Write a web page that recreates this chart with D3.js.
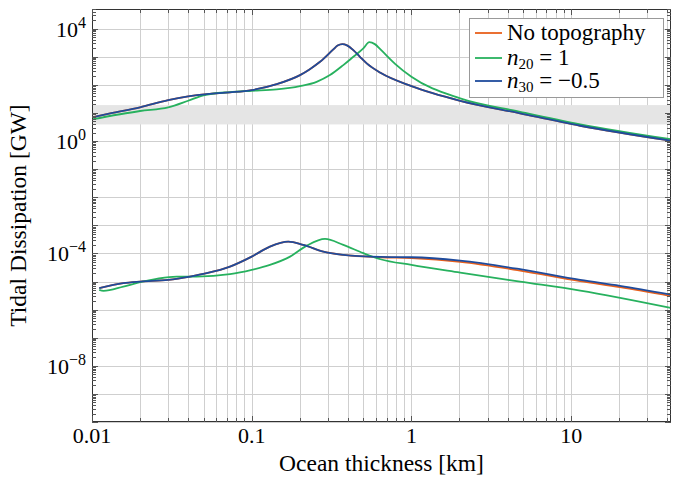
<!DOCTYPE html>
<html lang="en">
<head>
<meta charset="UTF-8">
<title>Tidal dissipation vs ocean thickness</title>
<style>
  body { margin: 0; background: #fff; }
  svg { display: block; font-family: "Liberation Serif", "DejaVu Serif", serif; }
  .grid line { stroke: #cfcfcf; stroke-width: 1; }
  .spine { fill: none; stroke: #333; stroke-width: 1; }
  .tick { stroke: #555; stroke-width: 1; }
</style>
</head>
<body>
<svg id="chart" width="673" height="479"></svg>
<script src="https://cdn.jsdelivr.net/npm/d3@7"></script>
<script>
// ---- data ----
// upper branch (large dissipation)
var upThick = [0.01, 0.013, 0.02, 0.03, 0.04, 0.0523, 0.0731, 0.1, 0.1434, 0.2006, 0.23, 0.2678, 0.3243, 0.345, 0.3693, 0.395, 0.4327, 0.476, 0.525, 0.64, 1, 2.02, 4.79, 11.4, 42];
var upNoTopo = [6.96, 9.66, 15.8, 28.7, 38.8, 46.9, 53.9, 65, 106, 222, 354, 660, 1820, 2500, 2810, 2550, 1720, 994, 579, 268, 90, 27.1, 9.66, 3.5, 1.03];
var upN30 = [6.96, 9.66, 15.8, 28.7, 38.8, 46.9, 53.9, 65, 106, 222, 354, 660, 1820, 2500, 2810, 2550, 1720, 994, 579, 268, 90, 27.1, 9.66, 3.5, 1.03];

var upThickN20 = [0.01, 0.02, 0.03, 0.04, 0.0498, 0.0731, 0.1, 0.1434, 0.2006, 0.255, 0.309, 0.3746, 0.4327, 0.5, 0.545, 0.59, 0.64, 0.79, 1, 2.02, 4.79, 11.4, 42];
var upN20 = [5.9, 11.7, 15.8, 27.1, 42.2, 55.2, 61.4, 68.9, 90.3, 128, 222, 504, 994, 1977, 3311, 2810, 1820, 560, 193, 33, 11, 3.93, 1.16];

// lower branch (small dissipation)
var loThick = [0.0111, 0.0157, 0.02, 0.03, 0.0411, 0.0523, 0.0731, 0.1, 0.13, 0.1695, 0.2105, 0.2807, 0.3746, 0.64, 1, 2.02, 4.79, 11.4, 20.2, 42];
var loNoTopo = [5.79e-6, 8.7e-6, 9.93e-6, 1.14e-5, 1.5e-5, 1.98e-5, 3.4e-5, 7.7e-5, 1.75e-4, 2.63e-4, 2.0e-4, 1.16e-4, 8.85e-5, 7.3e-5, 6.75e-5, 4.99e-5, 2.45e-5, 1.03e-5, 6.3e-6, 3.05e-6];
var loN30 = [5.79e-6, 8.7e-6, 9.93e-6, 1.14e-5, 1.5e-5, 1.98e-5, 3.4e-5, 7.7e-5, 1.75e-4, 2.63e-4, 2.0e-4, 1.16e-4, 8.85e-5, 7.5e-5, 7.3e-5, 5.5e-5, 2.74e-5, 1.14e-5, 7e-6, 3.4e-6];

var loThickN20 = [0.0111, 0.0118, 0.0157, 0.02, 0.0254, 0.0339, 0.0452, 0.0731, 0.1, 0.13, 0.1738, 0.221, 0.2877, 0.3746, 0.5, 0.64, 1, 2.02, 4.79, 11.4, 42];
var loN20 = [5.04e-6, 4.64e-6, 6.6e-6, 9.46e-6, 1.24e-5, 1.5e-5, 1.5e-5, 1.82e-5, 2.59e-5, 3.9e-5, 7.7e-5, 1.89e-4, 3.28e-4, 2.0e-4, 1.02e-4, 6.2e-5, 3.9e-5, 2.08e-5, 9.9e-6, 4.75e-6, 1.15e-6];

// grey band (GW)
var bandRange = [3.9, 19];

var xTickVals = [0.01, 0.1, 1, 10];
var xTickText = ["0.01", "0.1", "1", "10"];
var yTickExp = [4, 0, -4, -8];

var legendNames = ["No topography", "n20", "n30"];
var colors = { noTopo: "#e8601c", n20: "#27b15e", n30: "#1f4b9c" };

// ---- layout ----
var W = 673, H = 479;
var margin = { top: 9, right: 2, bottom: 57, left: 92 };
var w = W - margin.left - margin.right,
    h = H - margin.top - margin.bottom;

var x = d3.scaleLog().domain([0.01, 42.2]).range([0, w]);
var y = d3.scaleLog().domain([1e-10, 5e4]).range([h, 0]);

var svg = d3.select("#chart");
var g = svg.append("g").attr("transform", "translate(" + margin.left + "," + margin.top + ")");

svg.append("defs").append("clipPath").attr("id", "clip")
  .append("rect").attr("width", w).attr("height", h);

// minor / major tick values
var xMinor = [];
for (var e = -2; e <= 1; e++) for (var k = 1; k <= 9; k++) {
  var v = k * Math.pow(10, e);
  if (v >= 0.01 && v <= 42.2) xMinor.push(v);
}
var yMajor = d3.range(-10, 5).map(function(p) { return Math.pow(10, p); });
var yMinor = [];
for (var p = -10; p <= 4; p++) for (var k2 = 2; k2 <= 9; k2++) {
  var v2 = k2 * Math.pow(10, p);
  if (v2 <= 5e4) yMinor.push(v2);
}

// grid
var grid = g.append("g").attr("class", "grid");
grid.selectAll(".vx").data(xMinor).enter().append("line")
  .attr("x1", function(d) { return Math.round(x(d)) + 0.5; })
  .attr("x2", function(d) { return Math.round(x(d)) + 0.5; })
  .attr("y1", 0).attr("y2", h);
grid.selectAll(".hy").data(yMajor).enter().append("line")
  .attr("y1", function(d) { return Math.round(y(d)) + 0.5; })
  .attr("y2", function(d) { return Math.round(y(d)) + 0.5; })
  .attr("x1", 0).attr("x2", w);

// band
g.append("rect")
  .attr("x", 0).attr("width", w)
  .attr("y", y(bandRange[1]))
  .attr("height", y(bandRange[0]) - y(bandRange[1]))
  .attr("fill", "#e5e5e5");

// curves
var line = d3.line()
  .x(function(d) { return x(d[0]); })
  .y(function(d) { return y(d[1]); })
  .curve(d3.curveMonotoneX);

function pairs(xs, ys) { return xs.map(function(v, i) { return [v, ys[i]]; }); }

var series = [
  { xs: upThick, ys: upNoTopo, c: colors.noTopo },
  { xs: loThick, ys: loNoTopo, c: colors.noTopo },
  { xs: upThickN20, ys: upN20, c: colors.n20 },
  { xs: loThickN20, ys: loN20, c: colors.n20 },
  { xs: upThick, ys: upN30, c: colors.n30 },
  { xs: loThick, ys: loN30, c: colors.n30 }
];

g.append("g").attr("clip-path", "url(#clip)")
  .selectAll("path").data(series).enter().append("path")
  .attr("d", function(d) { return line(pairs(d.xs, d.ys)); })
  .attr("fill", "none")
  .attr("stroke", function(d) { return d.c; })
  .attr("stroke-width", 1.8);

// spines
g.append("rect").attr("class", "spine")
  .attr("x", 0.5).attr("y", 0.5).attr("width", w - 1).attr("height", h - 1);

// inner ticks on all four sides
var ticks = g.append("g");
xMinor.forEach(function(d) {
  var px = Math.round(x(d)) + 0.5;
  var len = xTickVals.indexOf(d) >= 0 ? 6 : 4;
  ticks.append("line").attr("class", "tick").attr("x1", px).attr("x2", px).attr("y1", h).attr("y2", h - len);
  ticks.append("line").attr("class", "tick").attr("x1", px).attr("x2", px).attr("y1", 0).attr("y2", len);
});
yMinor.concat(yMajor).forEach(function(d) {
  var py = Math.round(y(d)) + 0.5;
  var len = yMajor.indexOf(d) >= 0 ? 6 : 4;
  ticks.append("line").attr("class", "tick").attr("y1", py).attr("y2", py).attr("x1", 0).attr("x2", len);
  ticks.append("line").attr("class", "tick").attr("y1", py).attr("y2", py).attr("x1", w).attr("x2", w - len);
});

// x tick labels
g.selectAll(".xl").data(xTickVals).enter().append("text")
  .attr("x", function(d) { return x(d); })
  .attr("y", h + 21)
  .attr("text-anchor", "middle")
  .attr("font-size", 22)
  .text(function(d, i) { return xTickText[i]; });

// y tick labels 10^n
yTickExp.forEach(function(p) {
  var t = g.append("text")
    .attr("x", -6)
    .attr("y", y(Math.pow(10, p)) + 8)
    .attr("text-anchor", "end")
    .attr("font-size", 22);
  t.append("tspan").text("10");
  t.append("tspan").attr("dy", -9).attr("font-size", 16)
    .text(p < 0 ? "\u2212" + (-p) : String(p));
});

// axis titles
svg.append("text")
  .attr("x", margin.left + w / 2)
  .attr("y", 471)
  .attr("text-anchor", "middle")
  .attr("font-size", 23.5)
  .text("Ocean thickness [km]");

svg.append("text")
  .attr("transform", "translate(26," + (margin.top + h / 2) + ") rotate(-90)")
  .attr("text-anchor", "middle")
  .attr("font-size", 23.5)
  .text("Tidal Dissipation [GW]");

// legend
var leg = svg.append("g").attr("transform", "translate(469,18)");
leg.append("rect").attr("x", 0.5).attr("y", 0.5).attr("width", 194).attr("height", 79)
  .attr("fill", "#fff").attr("stroke", "#999");
var legRows = [
  { name: legendNames[0], c: colors.noTopo, yy: 15 },
  { name: legendNames[1], c: colors.n20, yy: 40 },
  { name: legendNames[2], c: colors.n30, yy: 63 }
];
legRows.forEach(function(r, i) {
  leg.append("line").attr("x1", 6).attr("x2", 33).attr("y1", r.yy).attr("y2", r.yy)
    .attr("stroke", r.c).attr("stroke-width", 1.8);
  var t = leg.append("text").attr("x", 38).attr("y", r.yy + 7).attr("font-size", 23);
  if (i === 0) {
    t.text(r.name);
  } else {
    t.append("tspan").attr("font-style", "italic").text("n");
    t.append("tspan").attr("font-size", 15).attr("dy", 4).text(i === 1 ? "20" : "30");
    t.append("tspan").attr("dy", -4).text(i === 1 ? " = 1" : " = \u22120.5");
  }
});
</script>
</body>
</html>
